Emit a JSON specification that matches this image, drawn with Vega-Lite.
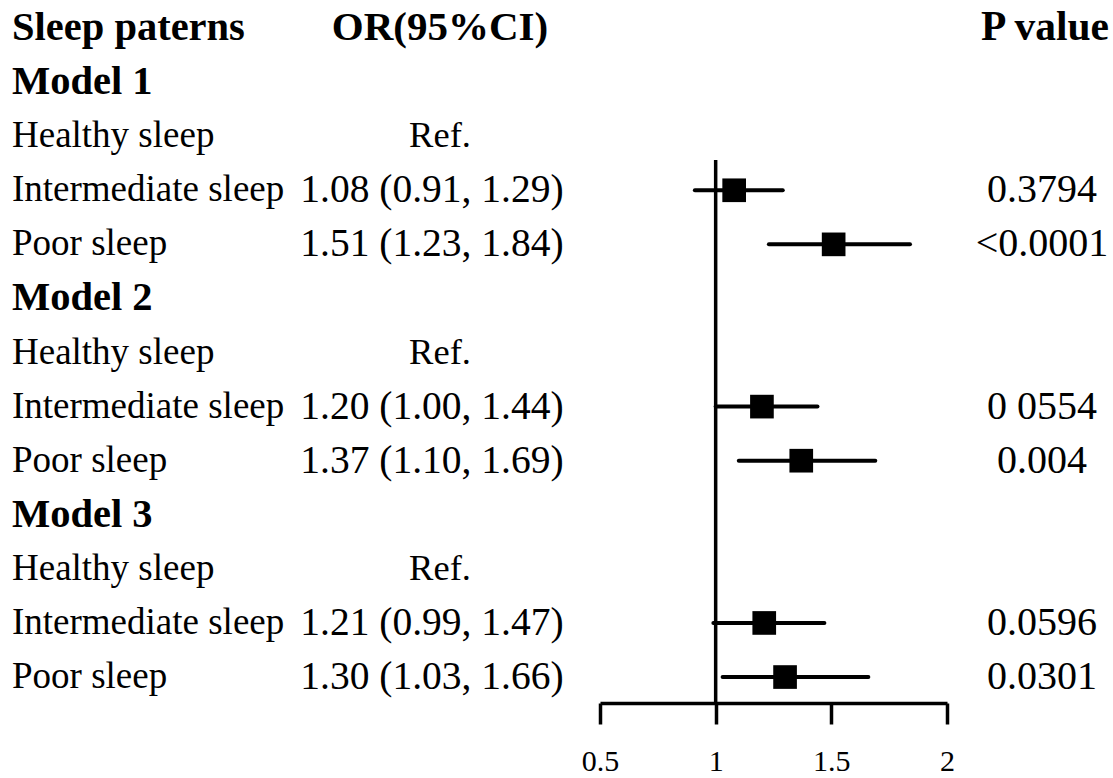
{
  "$schema": "https://vega.github.io/schema/vega-lite/v6.json",
  "padding": {"left": 12, "top": 0, "right": 0, "bottom": 0},
  "bounds": "flush",
  "spacing": 0,
  "background": "white",
  "config": {
    "view": {"stroke": null},
    "text": {"font": "Liberation Serif", "color": "black", "baseline": "middle"}
  },
  "datasets": {
    "rows": [
      {"row": 0, "label": "Sleep paterns", "ortext": "OR(95%CI)", "p": "P value", "bold": true},
      {"row": 1, "label": "Model 1", "ortext": "", "p": "", "bold": true},
      {"row": 2, "label": "Healthy sleep", "ortext": "Ref.", "p": "", "bold": false},
      {"row": 3, "label": "Intermediate sleep", "ortext": "1.08 (0.91, 1.29)", "p": "0.3794", "bold": false, "or": 1.08, "lo": 0.91, "hi": 1.29},
      {"row": 4, "label": "Poor sleep", "ortext": "1.51 (1.23, 1.84)", "p": "<0.0001", "bold": false, "or": 1.51, "lo": 1.23, "hi": 1.84},
      {"row": 5, "label": "Model 2", "ortext": "", "p": "", "bold": true},
      {"row": 6, "label": "Healthy sleep", "ortext": "Ref.", "p": "", "bold": false},
      {"row": 7, "label": "Intermediate sleep", "ortext": "1.20 (1.00, 1.44)", "p": "0 0554", "bold": false, "or": 1.20, "lo": 1.00, "hi": 1.44},
      {"row": 8, "label": "Poor sleep", "ortext": "1.37 (1.10, 1.69)", "p": "0.004", "bold": false, "or": 1.37, "lo": 1.10, "hi": 1.69},
      {"row": 9, "label": "Model 3", "ortext": "", "p": "", "bold": true},
      {"row": 10, "label": "Healthy sleep", "ortext": "Ref.", "p": "", "bold": false},
      {"row": 11, "label": "Intermediate sleep", "ortext": "1.21 (0.99, 1.47)", "p": "0.0596", "bold": false, "or": 1.21, "lo": 0.99, "hi": 1.47},
      {"row": 12, "label": "Poor sleep", "ortext": "1.30 (1.03, 1.66)", "p": "0.0301", "bold": false, "or": 1.30, "lo": 1.03, "hi": 1.66}
    ]
  },
  "hconcat": [
    {
      "width": 260,
      "height": 703,
      "data": {"name": "rows"},
      "encoding": {
        "y": {"field": "row", "type": "quantitative", "scale": {"domain": [-0.518, 12.48], "reverse": true, "nice": false, "zero": false}, "axis": null},
        "x": {"datum": 0, "type": "quantitative", "scale": {"domain": [0, 1], "nice": false}, "axis": null},
        "text": {"field": "label"}
      },
      "layer": [
        {"transform": [{"filter": "datum.bold"}], "mark": {"type": "text", "align": "left", "fontWeight": "bold", "fontSize": 40.5}},
        {"transform": [{"filter": "!datum.bold"}], "mark": {"type": "text", "align": "left", "fontSize": 37}}
      ]
    },
    {
      "width": 328,
      "height": 703,
      "data": {"name": "rows"},
      "encoding": {
        "y": {"field": "row", "type": "quantitative", "scale": {"domain": [-0.518, 12.48], "reverse": true, "nice": false, "zero": false}, "axis": null},
        "x": {"datum": 0.5, "type": "quantitative", "scale": {"domain": [0, 1], "nice": false}, "axis": null},
        "text": {"field": "ortext"}
      },
      "layer": [
        {"transform": [{"filter": "datum.bold && datum.ortext != ''"}], "mark": {"type": "text", "align": "center", "fontWeight": "bold", "fontSize": 41, "dx": 4}},
        {"transform": [{"filter": "datum.ortext == 'Ref.'"}], "mark": {"type": "text", "align": "center", "fontSize": 36.5, "dx": 4}},
        {"transform": [{"filter": "!datum.bold && datum.ortext != 'Ref.'"}], "mark": {"type": "text", "align": "center", "fontSize": 39.5, "dx": -4}}
      ]
    },
    {
      "width": 347,
      "height": 703,
      "layer": [
        {
          "data": {"values": [{"ref": 1}]},
          "mark": {"type": "rule", "color": "black", "strokeWidth": 3.5},
          "encoding": {
            "x": {"field": "ref", "type": "quantitative"},
            "y": {"datum": 2.44, "type": "quantitative"},
            "y2": {"datum": 12.48}
          }
        },
        {
          "data": {"name": "rows"},
          "transform": [{"filter": "isValid(datum.or)"}],
          "mark": {"type": "rule", "color": "black", "strokeWidth": 4, "strokeCap": "round"},
          "encoding": {
            "x": {"field": "lo", "type": "quantitative"},
            "x2": {"field": "hi"},
            "y": {"field": "row", "type": "quantitative"}
          }
        },
        {
          "data": {"name": "rows"},
          "transform": [{"filter": "isValid(datum.or)"}],
          "mark": {"type": "point", "shape": "square", "filled": true, "color": "black", "opacity": 1, "size": 560},
          "encoding": {
            "x": {"field": "or", "type": "quantitative"},
            "y": {"field": "row", "type": "quantitative"}
          }
        }
      ],
      "encoding": {
        "x": {
          "type": "quantitative",
          "scale": {"domain": [0.5, 2], "nice": false, "zero": false},
          "axis": {
            "title": null,
            "values": [0.5, 1, 1.5, 2],
            "format": "~g",
            "grid": false,
            "domainColor": "black",
            "domainWidth": 3.5,
            "tickColor": "black",
            "tickWidth": 3.5,
            "tickSize": 21,
            "labelFont": "Liberation Serif",
            "labelFontSize": 30,
            "labelColor": "black",
            "labelPadding": 22,
            "labelFlush": false
          }
        },
        "y": {"type": "quantitative", "scale": {"domain": [-0.518, 12.48], "reverse": true, "nice": false, "zero": false}, "axis": null}
      }
    },
    {
      "width": 166,
      "height": 703,
      "data": {"name": "rows"},
      "encoding": {
        "y": {"field": "row", "type": "quantitative", "scale": {"domain": [-0.518, 12.48], "reverse": true, "nice": false, "zero": false}, "axis": null},
        "x": {"datum": 0.5, "type": "quantitative", "scale": {"domain": [0, 1], "nice": false}, "axis": null},
        "text": {"field": "p"}
      },
      "layer": [
        {"transform": [{"filter": "datum.bold && datum.p != ''"}], "mark": {"type": "text", "align": "center", "fontWeight": "bold", "fontSize": 41.5, "dx": 15}},
        {"transform": [{"filter": "!datum.bold && datum.p != ''"}], "mark": {"type": "text", "align": "center", "fontSize": 40, "dx": 12}}
      ]
    }
  ]
}
